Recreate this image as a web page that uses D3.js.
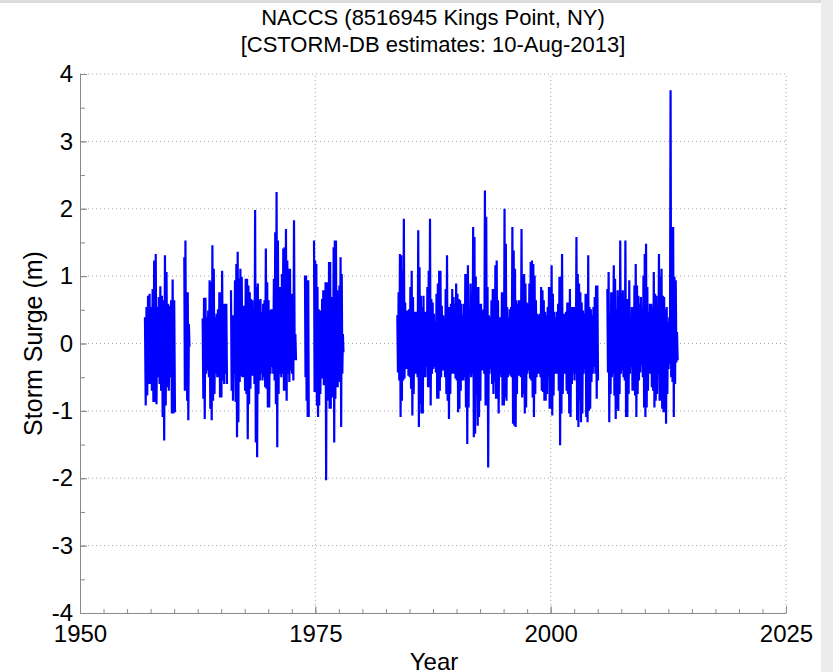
<!DOCTYPE html>
<html>
<head>
<meta charset="utf-8">
<script src="https://cdn.jsdelivr.net/npm/d3@7"></script>
<style>
  html, body { margin: 0; padding: 0; background: #fff; }
  svg { display: block; font-family: "Liberation Sans", Arial, Helvetica, sans-serif; }
  .grid line { stroke: #a8a8a8; stroke-width: 1; stroke-dasharray: 1,3; }
  .axis path, .axis line { stroke: #8a8a8a; }
  .axis text { fill: #000; font-size: 24px; font-family: "Liberation Sans", Arial, sans-serif; }
</style>
</head>
<body>
<div id="container"></div>
<script>
const width = 833, height = 672;
const margin = {left: 80, right: 47, top: 74, bottom: 59};

// axis ticks
const xMajor = [1950, 1975, 2000, 2025];
const yMajor = [-4, -3, -2, -1, 0, 1, 2, 3, 4];

// data blocks (years) where the gauge record exists
const blockStart = [1956.9, 1961.08, 1963.03, 1966.04, 1973.9, 1974.86, 1983.71, 2006.02];
const blockEnd   = [1960.17, 1961.69, 1965.69, 1973.02, 1974.36, 1978.05, 2005.1, 2013.56];

// per-sample peak / trough surge (m)
const hi1957 = [0.39,0.54,0.71,0.74,0.54,0.81,1.23,1.33,0.54,0.69,0.85,0.71,0.64,1.31,1.06,0.59,0.56,0.64,0.95,0.64];
const lo1957 = [-0.92,-0.77,-0.60,-0.60,-0.70,-0.87,-0.87,-0.90,-0.50,-0.60,-0.70,-1.09,-1.44,-0.92,-0.65,-0.70,-0.50,-1.04,-1.04,-1.02];

const hi1961 = [1.28,1.53,0.76,0.76,0.29];
const lo1961 = [-0.70,-0.70,-0.85,-1.14,-0.05];

const hi1963 = [0.37,0.68,0.68,0.39,0.49,0.94,0.91,1.46,1.11,0.39,0.44,0.51,0.76,0.76,1.08,0.59,0.59,0.59];
const lo1963 = [-0.82,-1.12,-0.45,-0.40,-0.50,-0.97,-1.14,-0.85,-0.75,-0.45,-0.50,-0.50,-0.80,-0.80,-0.55,-0.60,-0.45,-0.60];

const hi1966 = [0.79,0.42,0.42,0.94,1.18,1.36,0.96,1.11,0.99,0.56,0.56,0.96,0.96,0.86,0.76,0.66,0.64,0.44,1.98,0.84,
  0.89,0.64,0.66,0.47,0.59,0.64,1.41,0.91,0.64,0.49,0.51,0.51,0.96,1.65,2.25,1.53,0.84,0.84,1.03,1.41,
  1.43,1.70,1.23,1.11,1.11,0.74,0.74,1.83,0.14];
const lo1966 = [-0.70,-0.85,-0.45,-0.87,-1.39,-1.17,-0.57,-0.48,-0.50,-0.50,-0.70,-0.75,-1.42,-0.90,-0.67,-0.48,-0.48,-0.60,-1.47,-1.69,
  -0.75,-0.55,-0.45,-0.55,-0.50,-0.65,-0.67,-0.95,-0.95,-0.45,-0.35,-0.45,-0.55,-0.90,-1.54,-0.75,-0.45,-0.50,-0.45,-0.70,
  -0.70,-0.85,-0.45,-0.57,-0.40,-0.45,-0.55,-0.25,-0.25];

const hi1974 = [1.01,1.01,0.94,0.94];
const lo1974 = [-0.50,-0.85,-1.09,-1.09];

const hi1975 = [1.53,1.23,1.18,0.84,0.51,0.49,0.44,0.66,0.79,0.79,0.91,0.91,0.51,1.21,1.21,0.69,0.69,1.43,1.53,1.53,
  0.79,0.49,0.86,1.28,1.03,0.14];
const lo1975 = [-0.72,-0.72,-0.92,-1.09,-0.92,-0.75,-0.52,-0.52,-0.62,-0.60,-2.03,-0.85,-0.82,-0.97,-0.97,-0.80,-0.75,-1.47,-0.82,-0.65,
  -0.65,-0.45,-0.57,-1.24,-0.45,-0.13];

const hi1984 = [0.42,0.76,1.33,1.31,1.08,1.85,0.61,0.49,0.49,0.51,0.84,1.08,0.69,0.47,0.47,0.47,1.68,1.13,0.71,0.54,
  0.71,0.47,0.47,0.84,1.08,1.85,0.66,0.61,0.44,0.32,0.74,0.89,1.08,1.08,0.56,0.42,0.39,0.81,1.31,0.54,
  0.54,0.59,0.81,0.69,0.59,0.89,0.74,0.66,0.64,0.59,0.42,0.59,1.03,1.03,1.16,0.44,0.89,0.44,1.73,1.58,
  0.99,0.84,0.84,0.59,0.59,0.49,0.51,2.27,
  1.88,0.84,0.42,0.39,0.64,0.81,0.81,1.16,1.23,0.64,0.39,0.39,0.76,0.76,2.00,1.48,0.54,0.39,0.51,0.54,
  1.73,1.38,1.11,0.64,0.59,0.64,0.64,1.70,1.01,1.03,0.89,0.61,0.59,0.89,1.21,1.23,1.18,1.01,0.64,0.44,
  0.42,0.44,0.84,0.79,0.64,0.47,0.42,0.54,0.84,0.84,1.16,0.74,0.47,0.39,0.47,0.59,0.99,0.99,1.33,0.44,
  0.44,0.47,0.61,0.61,0.81,0.54,0.54,0.54,
  0.54,1.58,1.03,0.89,0.76,0.61,0.49,0.44,0.74,0.74,1.31,0.54,0.51,0.42,0.54,0.69,0.86,0.86];
const lo1984 = [-0.43,-0.55,-1.09,-0.85,-0.55,-0.52,-0.38,-0.38,-0.48,-0.50,-0.67,-1.07,-0.75,-0.45,-0.45,-0.50,-1.24,-0.90,-1.04,-1.04,
  -0.50,-0.50,-0.35,-0.65,-0.65,-0.92,-0.45,-0.38,-0.35,-0.43,-0.82,-0.82,-0.70,-0.50,-0.40,-0.40,-0.50,-0.75,-0.85,-1.12,
  -0.75,-0.45,-0.45,-0.45,-0.52,-0.55,-1.02,-0.97,-0.70,-0.55,-0.55,-0.50,-0.95,-1.49,-0.95,-0.45,-0.50,-0.45,-1.39,-1.34,
  -0.75,-1.22,-1.09,-0.85,-0.40,-0.40,-0.45,-0.92,
  -0.92,-1.84,-0.45,-0.38,-0.60,-0.75,-0.57,-0.82,-0.82,-1.04,-0.45,-0.50,-0.92,-0.92,-0.80,-0.85,-0.50,-0.45,-0.48,-0.50,
  -1.19,-1.22,-1.24,-0.75,-0.48,-0.48,-0.50,-0.80,-0.75,-1.04,-0.95,-0.45,-0.40,-0.52,-0.55,-0.80,-1.09,-0.75,-0.50,-0.45,
  -0.45,-0.50,-0.70,-0.72,-0.85,-0.85,-0.75,-0.50,-0.97,-0.97,-1.07,-0.77,-0.45,-0.45,-0.45,-0.70,-1.51,-1.04,-0.75,-0.45,
  -0.45,-0.70,-0.75,-1.04,-1.09,-0.60,-0.45,-0.55,
  -0.45,-1.14,-1.24,-0.85,-1.17,-1.04,-0.45,-0.38,-1.09,-1.17,-1.00,-0.97,-0.57,-0.45,-0.35,-0.45,-0.82,-0.55];

const hi2006 = [0.81,1.06,0.44,0.76,0.76,1.16,0.96,0.51,0.79,0.71,1.53,0.74,0.79,0.44,1.53,0.66,0.66,0.94,0.32,0.54,
  0.54,0.86,1.18,0.86,0.71,0.59,0.69,0.51,1.01,1.33,1.48,0.84,0.47,0.59,0.59,0.54,1.06,0.74,0.71,0.44,
  1.33,0.99,1.11,0.71,0.69,0.51,0.54,0.32,0.39,3.76,1.73,1.73,0.99,0.94,0.17];
const lo2006 = [-0.43,-1.17,-0.75,-0.50,-0.45,-0.77,-1.12,-0.97,-1.00,-0.75,-0.45,-0.40,-0.50,-0.55,-1.09,-1.09,-0.75,-0.45,-0.35,-0.70,
  -0.70,-0.77,-1.09,-0.75,-0.55,-0.43,-0.33,-0.50,-0.95,-1.09,-0.95,-0.70,-0.45,-0.45,-0.65,-0.70,-0.95,-0.85,-0.75,-0.45,
  -0.85,-0.85,-0.97,-1.02,-1.02,-1.19,-0.75,-0.38,-0.30,-0.50,-0.57,-1.09,-0.60,-0.28,-0.25];

const highs = [hi1957, hi1961, hi1963, hi1966, hi1974, hi1975, hi1984, hi2006];
const lows  = [lo1957, lo1961, lo1963, lo1966, lo1974, lo1975, lo1984, lo2006];

const svg = d3.select('#container').append('svg')
    .attr('width', width)
    .attr('height', height)
    .attr('viewBox', [0, 0, width, height]);

// window chrome edges seen in the screenshot
svg.append('rect').attr('x', 0).attr('y', 0).attr('width', width).attr('height', 3).attr('fill', '#dcdcdc');
svg.append('rect').attr('x', 821).attr('y', 0).attr('width', 12).attr('height', height).attr('fill', '#ececec');

const x = d3.scaleLinear().domain([1950, 2025]).range([margin.left, width - margin.right]);
const y = d3.scaleLinear().domain([-4, 4]).range([height - margin.bottom, margin.top]);

// dotted grid
const grid = svg.append('g').classed('grid', true);
grid.selectAll('line.gy')
    .data(yMajor.filter(v => v > -4))
    .join('line')
        .attr('x1', x(1950)).attr('x2', x(2025))
        .attr('y1', d => y(d)).attr('y2', d => y(d));
grid.selectAll('line.gx')
    .data(xMajor.filter(v => v > 1950))
    .join('line')
        .attr('x1', d => x(d)).attr('x2', d => x(d))
        .attr('y1', y(-4)).attr('y2', y(4));

// surge trace: zigzag between each peak and trough
const line = d3.line()
    .x(d => x(d[0]))
    .y(d => y(d[1]));

const traces = svg.append('g').attr('class', 'traces');
blockStart.forEach((t0, i) => {
    const hs = highs[i], ls = lows[i];
    const step = (blockEnd[i] - t0) / hs.length;
    const pts = [];
    hs.forEach((h, j) => {
        pts.push([t0 + j * step, h]);
        pts.push([t0 + (j + 0.5) * step, ls[j]]);
    });
    traces.append('path')
        .attr('d', line(pts))
        .attr('fill', 'none')
        .attr('stroke', '#0000ff')
        .attr('stroke-width', 2.2)
        .attr('stroke-linejoin', 'bevel');
});

// axes, ticks pointing inward
const xMinor = d3.range(1950, 2025.1, 2.5);
const yMinor = d3.range(-4, 4.01, 0.5);
const plain = d => String(d);   // hyphen minus, like the original

svg.append('g').attr('class', 'axis')
    .attr('transform', `translate(0, ${y(-4)})`)
    .call(d3.axisBottom(x).tickValues(xMinor).tickSize(-4).tickFormat(''))
    .call(g => g.select('.domain').remove());
svg.append('g').attr('class', 'axis')
    .attr('transform', `translate(0, ${y(-4)})`)
    .call(d3.axisBottom(x).tickValues(xMajor).tickSize(-7).tickSizeOuter(0).tickPadding(12).tickFormat(plain));

svg.append('g').attr('class', 'axis')
    .attr('transform', `translate(${x(1950)}, 0)`)
    .call(d3.axisLeft(y).tickValues(yMinor).tickSize(-5).tickFormat(''))
    .call(g => g.select('.domain').remove());
svg.append('g').attr('class', 'axis')
    .attr('transform', `translate(${x(1950)}, 0)`)
    .call(d3.axisLeft(y).tickValues(yMajor).tickSize(-7).tickSizeOuter(0).tickPadding(7).tickFormat(plain));

// labels
svg.append('text')
    .attr('x', (x(1950) + x(2025)) / 2 + 1)
    .attr('y', 670)
    .attr('text-anchor', 'middle')
    .style('font-size', '24px')
    .text('Year');

svg.append('text')
    .attr('transform', `translate(42, ${y(0)}) rotate(-90)`)
    .attr('text-anchor', 'middle')
    .style('font-size', '25px')
    .text('Storm Surge (m)');

const title = svg.append('text')
    .attr('text-anchor', 'middle')
    .style('font-size', '22px');
title.append('tspan').attr('x', 433).attr('y', 25).text('NACCS (8516945 Kings Point, NY)');
title.append('tspan').attr('x', 433).attr('y', 52).text('[CSTORM-DB estimates: 10-Aug-2013]');
</script>
</body>
</html>
